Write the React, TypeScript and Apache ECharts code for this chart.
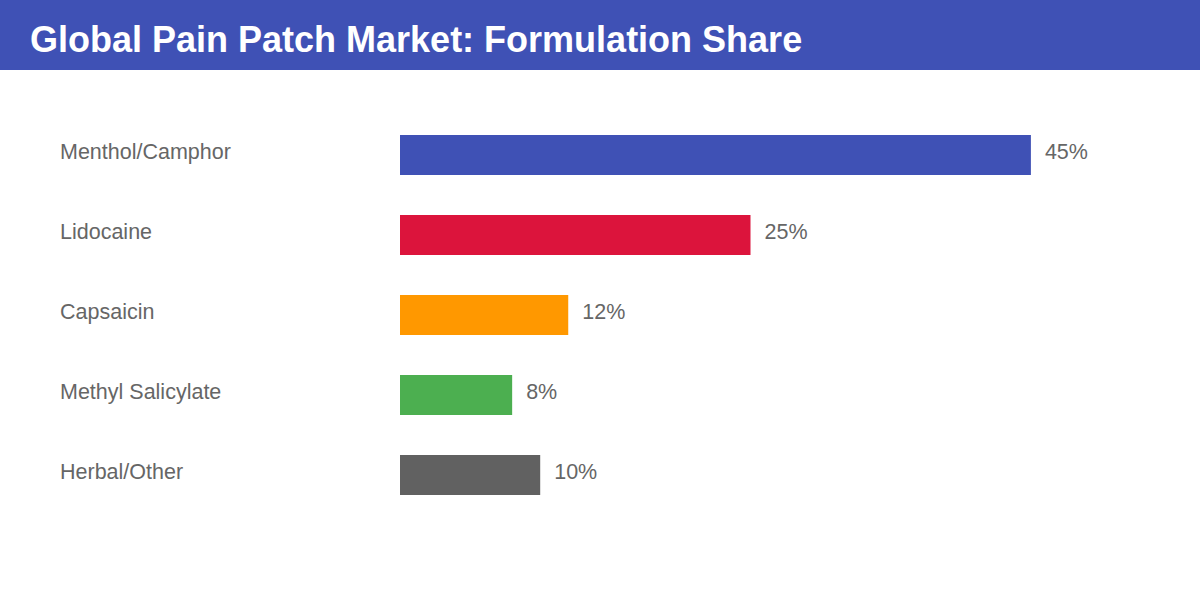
import * as echarts from 'echarts'
import { useEffect, useRef } from 'react'

const title = 'Global Pain Patch Market: Formulation Share'
const categories = ['Menthol/Camphor', 'Lidocaine', 'Capsaicin', 'Methyl Salicylate', 'Herbal/Other']
const shares = [45, 25, 12, 8, 10]
const colors = ['#3F51B5', '#DC143C', '#FF9800', '#4CAF50', '#616161']

const font = '"Liberation Sans", Arial, Helvetica, sans-serif'

export default function App() {
  const chartRef = useRef<HTMLDivElement>(null)

  useEffect(() => {
    document.body.style.margin = '0'
    if (!chartRef.current) return
    const chart = echarts.init(chartRef.current, null, { renderer: 'svg' })

    chart.setOption({
      animation: false,
      backgroundColor: '#ffffff',
      textStyle: { fontFamily: font },
      graphic: [
        {
          type: 'rect',
          left: 0,
          top: 0,
          shape: { width: 1200, height: 70 },
          style: { fill: '#3F51B5' },
        },
        {
          type: 'text',
          left: 30,
          top: 21,
          style: {
            text: title,
            fill: '#ffffff',
            font: `bold 36px ${font}`,
          },
        },
      ],
      grid: { left: 400, top: 115, width: 701, height: 400 },
      xAxis: {
        type: 'value',
        min: 0,
        max: 50,
        show: false,
      },
      yAxis: {
        type: 'category',
        data: categories,
        inverse: true,
        axisLine: { show: false },
        axisTick: { show: false },
        splitLine: { show: false },
        axisLabel: {
          align: 'left',
          margin: 340,
          formatter: (v: string) => `{a|${v}}`,
          rich: {
            a: {
              fontSize: 21.5,
              color: '#666666',
              fontFamily: font,
              padding: [0, 0, 6, 0],
            },
          },
        },
      },
      series: [
        {
          type: 'bar',
          barWidth: 40,
          data: shares.map((v, i) => ({ value: v, itemStyle: { color: colors[i] } })),
          label: {
            show: true,
            position: 'right',
            distance: 14,
            offset: [0, -3],
            formatter: '{c}%',
            fontSize: 21.5,
            color: '#666666',
            fontFamily: font,
          },
        },
      ],
    })

    return () => chart.dispose()
  }, [])

  return <div ref={chartRef} style={{ width: 1200, height: 600 }} />
}
